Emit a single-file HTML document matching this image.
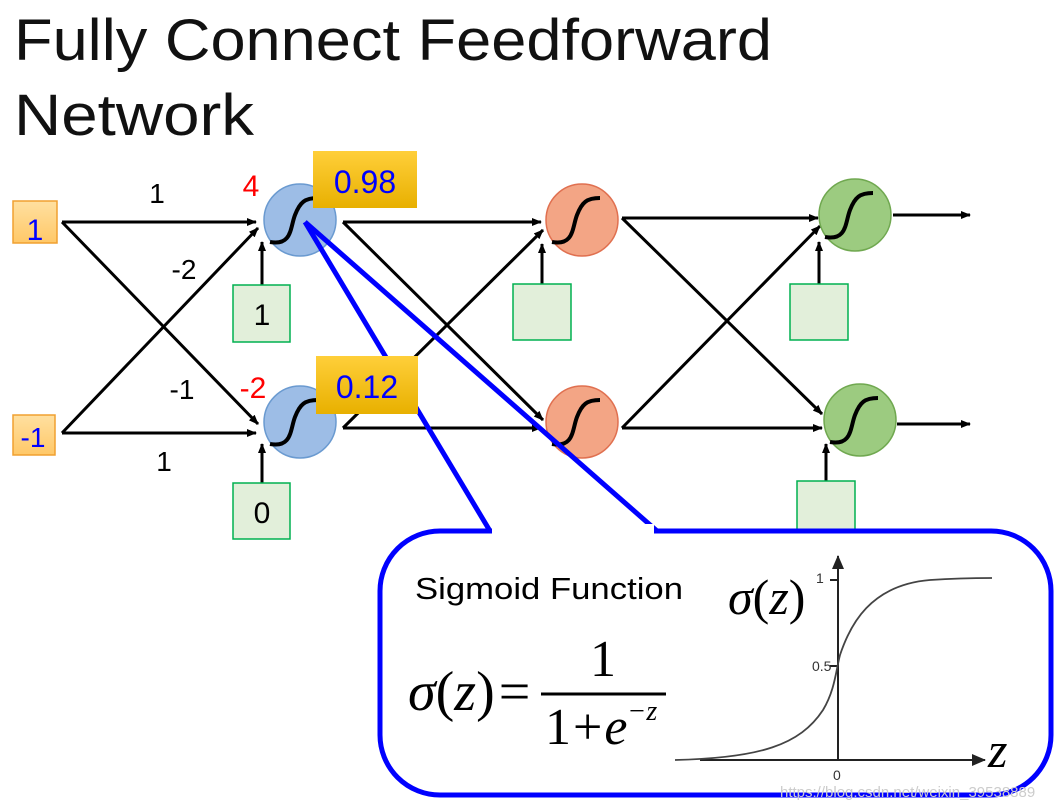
<!DOCTYPE html>
<html><head><style>body{margin:0;background:#fff}svg{display:block}</style></head><body>
<svg width="1064" height="811" viewBox="0 0 1064 811" xmlns="http://www.w3.org/2000/svg" font-family="Liberation Sans, sans-serif">
<defs>
<marker id="a" markerWidth="10" markerHeight="8" refX="9" refY="4" orient="auto" markerUnits="userSpaceOnUse"><path d="M0,0 L10,4 L0,8 z" fill="#000"/></marker>
<marker id="ab" markerWidth="14" markerHeight="12" refX="13" refY="6" orient="auto" markerUnits="userSpaceOnUse"><path d="M0,0 L14,6 L0,12 z" fill="#222"/></marker>
<linearGradient id="g" x1="0" y1="0" x2="0" y2="1"><stop offset="0" stop-color="#ffcf3a"/><stop offset="1" stop-color="#e8b000"/></linearGradient>
<linearGradient id="o" x1="0" y1="0" x2="0" y2="1"><stop offset="0" stop-color="#ffe0a0"/><stop offset="1" stop-color="#ffc868"/></linearGradient>
</defs>
<text x="14" y="60" font-size="58" textLength="758" lengthAdjust="spacingAndGlyphs" fill="#111">Fully Connect Feedforward</text>
<text x="14" y="135" font-size="58" textLength="240" lengthAdjust="spacingAndGlyphs" fill="#111">Network</text>
<g stroke="#000" stroke-width="3" fill="none" marker-end="url(#a)">
<line x1="62" y1="222" x2="256" y2="222"/><line x1="62" y1="222" x2="258" y2="424"/>
<line x1="62" y1="433" x2="256" y2="433"/><line x1="62" y1="433" x2="258" y2="228"/>
<line x1="262" y1="285" x2="262" y2="242"/><line x1="262" y1="483" x2="262" y2="444"/>
<line x1="343" y1="222" x2="541" y2="222"/><line x1="343" y1="222" x2="543" y2="420"/>
<line x1="343" y1="428" x2="543" y2="230"/><line x1="343" y1="428" x2="541" y2="428"/>
<line x1="542" y1="284" x2="542" y2="244"/>
<line x1="622" y1="218" x2="818" y2="218"/><line x1="622" y1="218" x2="822" y2="414"/>
<line x1="622" y1="428" x2="820" y2="226"/><line x1="622" y1="428" x2="822" y2="428"/>
<line x1="819" y1="284" x2="819" y2="242"/><line x1="826" y1="481" x2="826" y2="444"/>
<line x1="893" y1="215" x2="970" y2="215"/><line x1="897" y1="424" x2="970" y2="424"/>
</g>
<rect x="13" y="201" width="44" height="42" fill="url(#o)" stroke="#f0a030" stroke-width="1.5"/>
<text x="35" y="240" font-size="30" fill="#00f" text-anchor="middle">1</text>
<rect x="13" y="415" width="42" height="40" fill="url(#o)" stroke="#f0a030" stroke-width="1.5"/>
<text x="33" y="447" font-size="28" fill="#00f" text-anchor="middle">-1</text>
<g font-size="28" fill="#000" text-anchor="middle">
<text x="157" y="203">1</text><text x="184" y="279">-2</text><text x="182" y="399">-1</text><text x="164" y="471">1</text>
</g>
<text x="251" y="196" font-size="30" fill="#f00" text-anchor="middle">4</text>
<text x="253" y="398" font-size="30" fill="#f00" text-anchor="middle">-2</text>
<g stroke-width="1.5">
<rect x="233" y="285" width="57" height="57" fill="#e2efda" stroke="#00b050"/>
<rect x="233" y="483" width="57" height="56" fill="#e2efda" stroke="#00b050"/>
<rect x="513" y="284" width="58" height="56" fill="#e2efda" stroke="#00b050"/>
<rect x="790" y="284" width="58" height="56" fill="#e2efda" stroke="#00b050"/>
<rect x="797" y="481" width="58" height="56" fill="#e2efda" stroke="#00b050"/>
</g>
<text x="262" y="325" font-size="30" text-anchor="middle">1</text>
<text x="262" y="523" font-size="30" text-anchor="middle">0</text>
<g stroke-width="1.5">
<circle cx="300" cy="220" r="36" fill="#9dbde6" stroke="#6a9ad0"/>
<circle cx="300" cy="422" r="36" fill="#9dbde6" stroke="#6a9ad0"/>
<circle cx="582" cy="220" r="36" fill="#f3a585" stroke="#e07050"/>
<circle cx="582" cy="422" r="36" fill="#f3a585" stroke="#e07050"/>
<circle cx="855" cy="215" r="36" fill="#9ccb80" stroke="#70a850"/>
<circle cx="860" cy="420" r="36" fill="#9ccb80" stroke="#70a850"/>
</g>
<g stroke="#000" stroke-width="4" fill="none">
<path d="M270,242 C292,246 290,228 295,215 C300,202 305,198 318,198"/>
<path d="M270,444 C292,448 290,430 295,417 C300,404 305,400 318,400"/>
<path d="M552,242 C574,246 572,228 577,215 C582,202 587,198 600,198"/>
<path d="M552,444 C574,448 572,430 577,417 C582,404 587,400 600,400"/>
<path d="M825,237 C847,241 845,223 850,210 C855,197 860,193 873,193"/>
<path d="M830,442 C852,446 850,428 855,415 C860,402 865,398 878,398"/>
</g>
<rect x="313" y="151" width="104" height="57" fill="url(#g)"/>
<text x="365" y="193" font-size="32" fill="#00f" text-anchor="middle">0.98</text>
<g stroke="#00f" stroke-width="5" fill="none">
<line x1="305" y1="222" x2="490" y2="531"/>
<line x1="305" y1="222" x2="657" y2="531"/>
</g>
<rect x="380" y="531" width="671" height="264" rx="60" fill="#fff" stroke="#00f" stroke-width="5"/>
<rect x="316" y="356" width="102" height="58" fill="url(#g)"/>
<text x="367" y="398" font-size="32" fill="#00f" text-anchor="middle">0.12</text>
<rect x="492" y="524" width="162" height="10" fill="#fff"/>
<text x="415" y="599" font-size="31" fill="#000" textLength="268" lengthAdjust="spacingAndGlyphs">Sigmoid Function</text>
<g font-family="Liberation Serif, serif" fill="#000">
<text x="408" y="710" font-size="56"><tspan font-style="italic">σ</tspan>(<tspan font-style="italic">z</tspan>)<tspan dx="4">=</tspan></text>
<text x="603" y="676" text-anchor="middle" font-size="52">1</text>
<line x1="541" y1="694" x2="666" y2="694" stroke="#000" stroke-width="3"/>
<text x="545" y="744" font-size="52">1<tspan dx="2">+</tspan><tspan font-style="italic" dx="2">e</tspan><tspan font-size="28" dy="-24" font-style="italic">−z</tspan></text>
<text x="728" y="614" font-size="50"><tspan font-style="italic">σ</tspan>(<tspan font-style="italic">z</tspan>)</text>
<text x="988" y="767" font-style="italic" font-size="50">z</text>
</g>
<g stroke="#222" stroke-width="2" fill="none">
<line x1="700" y1="760" x2="985" y2="760" marker-end="url(#ab)"/>
<line x1="838" y1="760" x2="838" y2="556" marker-end="url(#ab)"/>
<line x1="830" y1="580" x2="838" y2="580"/><line x1="830" y1="666" x2="838" y2="666"/>
<path d="M675,760 C760,758 800,745 823,710 C835,690 836,670 840,655 C850,625 870,585 930,580 C960,578 975,578 992,578" stroke="#444" stroke-width="1.8"/>
</g>
<g font-size="14" fill="#333">
<text x="812" y="671">0.5</text><text x="816" y="583">1</text><text x="833" y="780">0</text>
</g>
<text x="780" y="797" font-size="15" fill="#ccc">https://blog.csdn.net/weixin_39538889</text>
</svg>
</body></html>
